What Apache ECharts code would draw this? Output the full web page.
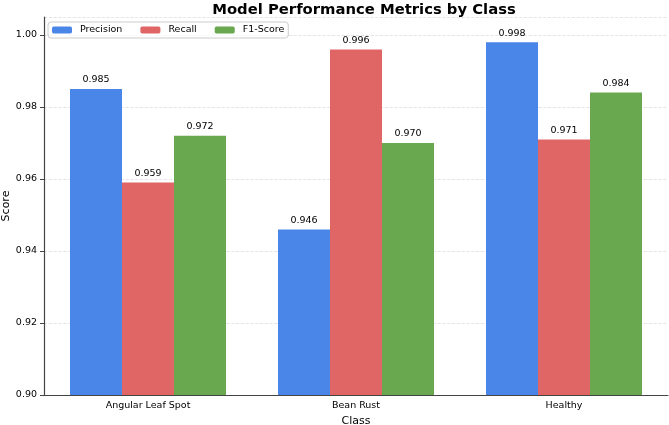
<!DOCTYPE html>
<html>
<head>
<meta charset="utf-8">
<script src="https://cdn.jsdelivr.net/npm/echarts@6/dist/echarts.min.js"></script>
<style>
  html, body { margin: 0; padding: 0; background: #fff; }
  #main { width: 669px; height: 425px; }
</style>
</head>
<body>
<div id="main"></div>
<script>
    // data
    var classes = ['Angular Leaf Spot', 'Bean Rust', 'Healthy'];
    var precision = [0.985, 0.946, 0.998];
    var recall = [0.959, 0.996, 0.971];
    var f1Score = [0.972, 0.970, 0.984];
    var yTicks = [0.90, 0.92, 0.94, 0.96, 0.98, 1.00];

    var myChart = echarts.init(document.getElementById('main'));
    var font = 'DejaVu Sans';

    function barSeries(name, data) {
        return {
            name: name,
            type: 'bar',
            data: data,
            barWidth: '25%',
            barGap: '0%',
            label: {
                show: true,
                position: 'top',
                distance: 4,
                fontFamily: font,
                fontSize: 9.5,
                color: '#000',
                formatter: function (p) { return p.value.toFixed(3); }
            }
        };
    }

    option = {
        color: ['#4a86e8', '#e06666', '#6aa84f'],
        animation: false,
        textStyle: { fontFamily: font },
        title: {
            text: 'Model Performance Metrics by Class',
            left: 359,
            textAlign: 'center',
            top: -2,
            textStyle: { fontFamily: font, fontSize: 14.8, fontWeight: 'bold', color: '#000' }
        },
        legend: {
            data: ['Precision', 'Recall', 'F1-Score'],
            left: 48,
            top: 22,
            itemWidth: 20,
            itemHeight: 7,
            itemGap: 18,
            padding: [3, 4],
            borderColor: '#ccc',
            borderWidth: 1,
            borderRadius: 3,
            backgroundColor: 'rgba(255,255,255,0.8)',
            textStyle: { fontFamily: font, fontSize: 9.5, color: '#000', padding: [0, 0, 0, 3] }
        },
        grid: { left: 44, right: 1, top: 17, bottom: 30, containLabel: false, outerBoundsMode: 'none' },
        xAxis: {
            type: 'category',
            data: classes,
            name: 'Class',
            nameLocation: 'middle',
            nameGap: 14,
            nameTextStyle: { fontFamily: font, fontSize: 11, color: '#000' },
            axisLine: { lineStyle: { color: '#444', width: 1.2 } },
            axisTick: { alignWithLabel: true, length: 4, lineStyle: { color: '#444' } },
            axisLabel: { fontFamily: font, fontSize: 9.5, color: '#000', margin: 6 }
        },
        yAxis: {
            type: 'value',
            min: 0.90,
            max: 1.005,
            interval: 0.02,
            name: 'Score',
            nameLocation: 'middle',
            nameGap: 32,
            nameMoveOverlap: false,
            nameTextStyle: { fontFamily: font, fontSize: 11, color: '#000' },
            axisLine: { show: true, lineStyle: { color: '#444', width: 1.2 } },
            axisTick: { show: true, length: 4, lineStyle: { color: '#444' } },
            axisLabel: {
                fontFamily: font, fontSize: 9.5, color: '#000', margin: 7,
                showMaxLabel: false,
                formatter: function (v) {
                    for (var i = 0; i < yTicks.length; i++) {
                        if (Math.abs(v - yTicks[i]) < 1e-6) return yTicks[i].toFixed(2);
                    }
                    return '';
                }
            },
            splitLine: { lineStyle: { color: '#ddd', type: 'dashed', width: 0.8 } }
        },
        series: [
            barSeries('Precision', precision),
            barSeries('Recall', recall),
            barSeries('F1-Score', f1Score)
        ]
    };

    myChart.setOption(option);
</script>
</body>
</html>
